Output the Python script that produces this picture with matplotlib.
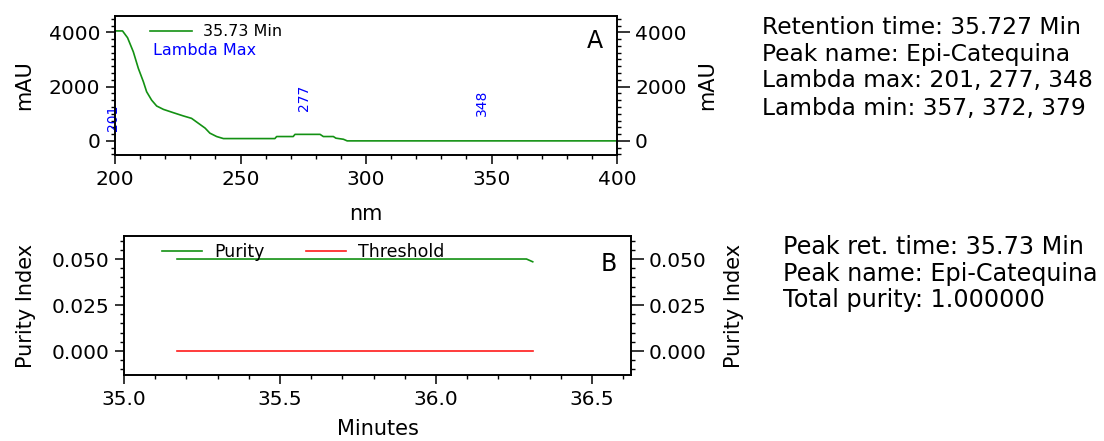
import matplotlib
matplotlib.use("Agg")
import matplotlib.pyplot as plt
from matplotlib.ticker import MultipleLocator, FormatStrFormatter

# ---------------- data ----------------
wavelength_nm = [200, 203, 205, 207.3, 209.3, 211.3, 212.6, 214.6, 216.6, 219.3, 223.2,
                 227.2, 230.5, 233.2, 235.9, 237.8, 240.5, 243.2, 263.7, 264.4, 271,
                 271.7, 281.7, 283, 287, 288, 291, 292.5, 300, 350, 400]
absorbance_mAU = [4050, 4050, 3800, 3280, 2670, 2180, 1810, 1500, 1285, 1160, 1040,
                  920, 830, 650, 470, 285, 160, 85, 85, 160, 160,
                  240, 240, 160, 160, 100, 60, 0, 0, 0, 0]
lambda_max = [201, 277, 348]
lambda_label_mAU = [840, 1570, 1390]

purity_time = [35.17, 36.29, 36.31]
purity_value = [0.050, 0.050, 0.0485]
threshold_time = [35.17, 36.31]
threshold_value = [0.0, 0.0]

info_top = ["Retention time: 35.727 Min", "Peak name: Epi-Catequina",
            "Lambda max: 201, 277, 348", "Lambda min: 357, 372, 379"]
info_bottom = ["Peak ret. time: 35.73 Min", "Peak name: Epi-Catequina",
               "Total purity: 1.000000"]

GREEN = "#139113"
RED = "#ff1a1a"
BLUE = "#0000ff"

W, H = 1104, 441
fig = plt.figure(figsize=(W / 100, H / 100), dpi=100)
fig.patch.set_facecolor("white")
plt.rcParams["font.family"] = "DejaVu Sans"

TICK_FS = 14.5
LABEL_FS = 15


def px_axes(l, t, r, b):
    return fig.add_axes([l / W, 1 - b / H, (r - l) / W, (b - t) / H])


def style(ax):
    for s in ax.spines.values():
        s.set_linewidth(1.2)
    ax.tick_params(which="major", direction="out", length=6.5, width=1.1,
                   labelsize=TICK_FS, pad=4)
    ax.tick_params(which="minor", direction="out", length=3, width=1.0)
    ax.tick_params(top=False, which="both")


# ---------------- panel A ----------------
axA = px_axes(115, 16, 617, 155)
axA.plot(wavelength_nm, absorbance_mAU, color=GREEN, lw=1.2, label="35.73 Min")
axA.set_xlim(200, 400)
axA.set_ylim(-520, 4600)
axA.xaxis.set_major_locator(MultipleLocator(50))
axA.xaxis.set_minor_locator(MultipleLocator(10))
axA.yaxis.set_major_locator(MultipleLocator(2000))
axA.yaxis.set_minor_locator(MultipleLocator(250))
style(axA)
axA.set_xlabel("nm", fontsize=LABEL_FS)
axA.xaxis.set_label_coords(0.5, -0.355)
axA.set_ylabel("mAU", fontsize=LABEL_FS)
axA.yaxis.set_label_coords(-0.162, 0.5)

for lam, yy in zip(lambda_max, lambda_label_mAU):
    axA.annotate(str(lam), (lam, yy), xytext=(-3, 0), textcoords="offset points",
                 rotation=90, ha="center", va="center", color=BLUE, fontsize=10)

axA.legend(loc="upper left", bbox_to_anchor=(0.07, 0.94), frameon=False,
           fontsize=11.5, handlelength=2.6, handletextpad=0.7,
           borderpad=0, borderaxespad=0)
axA.text(0.0757, 0.755, "Lambda Max", transform=axA.transAxes, color=BLUE,
         fontsize=11.5, ha="left", va="center")
axA.text(0.955, 0.82, "A", transform=axA.transAxes, fontsize=17, ha="center", va="center")

axA2 = axA.twinx()
axA2.set_ylim(axA.get_ylim())
axA2.yaxis.set_major_locator(MultipleLocator(2000))
axA2.yaxis.set_minor_locator(MultipleLocator(250))
style(axA2)
axA2.tick_params(which="major", length=9)
axA2.set_ylabel("mAU", fontsize=LABEL_FS)
axA2.yaxis.set_label_coords(1.16, 0.5)

# ---------------- panel B ----------------
axB = px_axes(124, 236, 631, 375)
axB.plot(purity_time, purity_value, color=GREEN, lw=1.2, label="Purity")
axB.plot(threshold_time, threshold_value, color=RED, lw=1.2, label="Threshold")
axB.set_xlim(35.0, 36.625)
axB.set_ylim(-0.013, 0.0625)
axB.xaxis.set_major_locator(MultipleLocator(0.5))
axB.xaxis.set_minor_locator(MultipleLocator(0.1))
axB.yaxis.set_major_locator(MultipleLocator(0.025))
axB.yaxis.set_minor_locator(MultipleLocator(0.005))
axB.xaxis.set_major_formatter(FormatStrFormatter("%.1f"))
axB.yaxis.set_major_formatter(FormatStrFormatter("%.3f"))
style(axB)
axB.set_xlabel("Minutes", fontsize=LABEL_FS)
axB.xaxis.set_label_coords(0.5, -0.315)
axB.set_ylabel("Purity Index", fontsize=LABEL_FS)
axB.yaxis.set_label_coords(-0.173, 0.5)
axB.legend(loc="upper left", bbox_to_anchor=(0.075, 0.95), frameon=False, ncol=2,
           fontsize=12.5, handlelength=2.3, handletextpad=0.7, columnspacing=2.4,
           borderpad=0, borderaxespad=0)
axB.text(0.956, 0.80, "B", transform=axB.transAxes, fontsize=17, ha="center", va="center")

axB2 = axB.twinx()
axB2.set_ylim(axB.get_ylim())
axB2.yaxis.set_major_locator(MultipleLocator(0.025))
axB2.yaxis.set_minor_locator(MultipleLocator(0.005))
axB2.yaxis.set_major_formatter(FormatStrFormatter("%.3f"))
style(axB2)
axB2.tick_params(which="major", length=9)
axB2.set_ylabel("Purity Index", fontsize=LABEL_FS)
axB2.yaxis.set_label_coords(1.184, 0.5)

# ---------------- info text ----------------
for i, line in enumerate(info_top):
    fig.text(762 / W, 1 - (27 + 27 * i) / H, line, fontsize=16.8, ha="left", va="center")
for i, line in enumerate(info_bottom):
    fig.text(783 / W, 1 - (247 + 26.5 * i) / H, line, fontsize=17.2, ha="left", va="center")

fig.savefig("out.png", dpi=100, facecolor="white")
